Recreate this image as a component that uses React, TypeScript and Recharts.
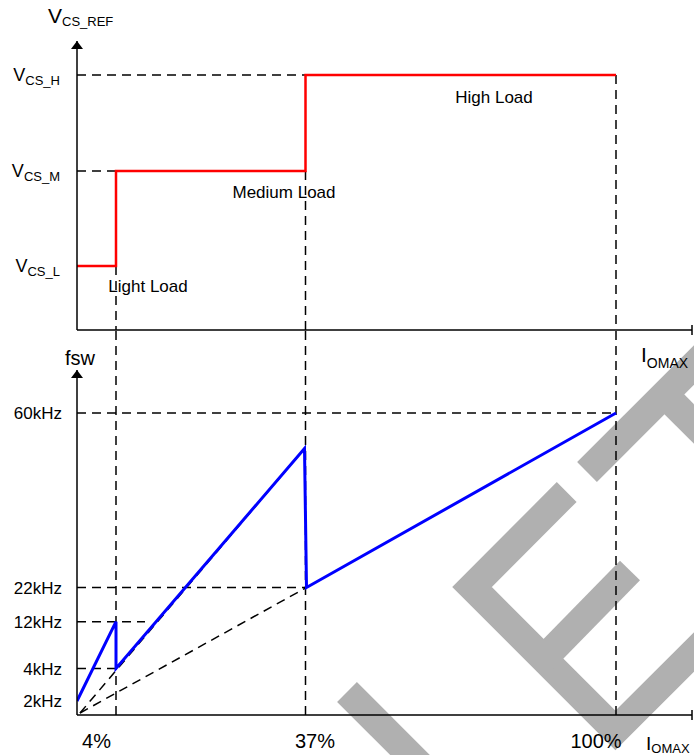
import React from 'react';
import { LineChart, Line, XAxis, YAxis, ReferenceLine, ReferenceDot } from 'recharts';

// ---- shared schematic x axis (drawn positions of 0, 4%, 37%, 100%) ----
const xTickValues = [39, 228.5, 539];
const xTickLabels = ['4%', '37%', '100%'];
const xTickShift = [-19.5, 9.5, -20];
const xAxisMax = 615;

// ---- top panel: V_CS_REF ----
const vcsLevelValues = [64, 159, 255];
const vcsLevelNames = ['CS_L', 'CS_M', 'CS_H'];
const vcsAxisMax = 289;
const vcsStepX = [0, 39, 228.5, 539];
const vcsStepY = [64, 159, 255, 255];
const loadNames = ['Light Load', 'Medium Load', 'High Load'];
const loadLabelX = [71, 207, 417];
const loadLabelY = [44, 138, 233];
const vcsGuideX = [[0, 39], [0, 228.5]];
const vcsGuideY = [[159, 159], [255, 255]];

// ---- bottom panel: fsw ----
const fswTickValues = [14, 46.5, 93.3, 127.5, 302];
const fswTickLabels = ['2kHz', '4kHz', '12kHz', '22kHz', '60kHz'];
const fswAxisMax = 345;
const fswCurveX = [0, 39, 39, 227.5, 229.5, 539];
const fswCurveY = [14, 93.3, 46.5, 266.5, 127.5, 302];
const fswGuideX = [[0, 539], [0, 228.5], [0, 68], [0, 45], [3, 227.5], [3, 229.5]];
const fswGuideY = [[302, 302], [127.5, 127.5], [93.3, 93.3], [46.5, 46.5], [2, 266.5], [2, 127.5]];

// ---- vertical drop guides (x position, level in top panel) ----
const dropX = [39, 228.5, 539];
const dropFromVcs = [64, 159, 255];

// ---- background watermark strokes ----
const watermarkStrokes = [
  [[347, 692], [445, 790]],
  [[566.7, 492], [472, 587], [615.4, 730.4], [730, 616]],
  [[543.7, 658.7], [630, 570.5]],
  [[587, 472], [730, 329]],
  [[672, 402], [760, 490]],
];

const FONT = '"Liberation Sans", Arial, Helvetica, sans-serif';
const DASH = '9 6';
const TOP_H = 340;
const BOTTOM_TOP = 330;

const pts = (xs: number[], ys: number[]) => xs.map((x, i) => ({ x, y: ys[i] }));

const Arrow = (p: any) => (
  <path d={`M${p.cx},${p.cy} L${p.cx - 6},${p.cy + 8} L${p.cx + 6},${p.cy + 8} Z`} fill="#000" />
);

const VcsTick = ({ y, payload }: any) => {
  const i = vcsLevelValues.indexOf(payload.value);
  return (
    <text x={60} y={y + 6} textAnchor="end" fontFamily={FONT} fontSize={18} fill="#000">
      V<tspan fontSize={13} dy={4}>{vcsLevelNames[i]}</tspan>
    </text>
  );
};

const FswTick = ({ y, payload }: any) => {
  const i = fswTickValues.indexOf(payload.value);
  return (
    <text x={62} y={y + 6} textAnchor="end" fontFamily={FONT} fontSize={17} fill="#000">
      {fswTickLabels[i]}
    </text>
  );
};

const XTick = ({ x, payload }: any) => {
  const i = xTickValues.indexOf(payload.value);
  return (
    <text x={x + xTickShift[i]} y={418} textAnchor="middle" fontFamily={FONT} fontSize={20} fill="#000">
      {xTickLabels[i]}
    </text>
  );
};

const axisStyle = { stroke: '#000', strokeWidth: 1.5 };

export default function App() {
  const stepData = pts(vcsStepX, vcsStepY);
  const curveData = pts(fswCurveX, fswCurveY);
  return (
    <div style={{ position: 'absolute', left: 0, top: 0, width: 694, height: 755, background: '#fff', overflow: 'hidden' }}>
      <svg width={694} height={755} style={{ position: 'absolute', left: 0, top: 0 }}>
        {watermarkStrokes.map((s, i) => (
          <polyline key={i} points={s.map((p) => p.join(',')).join(' ')} fill="none" stroke="#b0b0b0" strokeWidth={28} strokeLinejoin="miter" strokeLinecap="butt" />
        ))}
      </svg>

      <div style={{ position: 'absolute', left: 0, top: 0 }}>
        <LineChart width={694} height={TOP_H} data={stepData} margin={{ top: 41, right: 2, bottom: 9, left: 76 }}>
          <XAxis type="number" dataKey="x" domain={[0, xAxisMax]} allowDataOverflow height={1} tick={false} tickLine={false} axisLine={axisStyle} />
          <YAxis type="number" dataKey="y" domain={[0, vcsAxisMax]} allowDataOverflow width={1} ticks={vcsLevelValues} tick={<VcsTick />} tickLine={false} axisLine={axisStyle} interval={0} />
          {vcsGuideX.map((gx, i) => (
            <Line key={'g' + i} data={pts(gx, vcsGuideY[i])} dataKey="y" stroke="#000" strokeWidth={1.5} strokeDasharray={DASH} dot={false} activeDot={false} isAnimationActive={false} />
          ))}
          {dropX.map((dx, i) => (
            <ReferenceLine key={'d' + i} segment={[{ x: dx, y: dropFromVcs[i] }, { x: dx, y: 0 }]} stroke="#000" strokeWidth={1.5} strokeDasharray={DASH} ifOverflow="visible" />
          ))}
          <Line type="stepAfter" dataKey="y" stroke="#ff0000" strokeWidth={2.5} dot={false} activeDot={false} isAnimationActive={false} />
          {loadNames.map((n, i) => (
            <ReferenceDot key={'l' + i} x={loadLabelX[i]} y={loadLabelY[i]} r={0} fill="none" stroke="none" ifOverflow="visible"
              label={{ value: n, position: 'center', fontSize: 17, fill: '#000', fontFamily: FONT }} />
          ))}
          <ReferenceDot x={0} y={vcsAxisMax} r={0} shape={Arrow} ifOverflow="visible" />
          <ReferenceLine segment={[{ x: xAxisMax, y: -5 }, { x: xAxisMax, y: 5 }]} stroke="#000" strokeWidth={1.5} ifOverflow="visible" />
          <text x={48} y={23} fontFamily={FONT} fontSize={21} fill="#000">
            V<tspan fontSize={13} dy={2.5}>CS_REF</tspan>
          </text>
        </LineChart>
      </div>

      <div style={{ position: 'absolute', left: 0, top: BOTTOM_TOP }}>
        <LineChart width={694} height={755 - BOTTOM_TOP} data={curveData} margin={{ top: 370 - BOTTOM_TOP, right: 2, bottom: 39, left: 76 }}>
          <XAxis type="number" dataKey="x" domain={[0, xAxisMax]} allowDataOverflow height={1} ticks={xTickValues} tick={<XTick />} tickLine={false} axisLine={axisStyle} interval={0} />
          <YAxis type="number" dataKey="y" domain={[0, fswAxisMax]} allowDataOverflow width={1} ticks={fswTickValues} tick={<FswTick />} tickLine={false} axisLine={axisStyle} interval={0} />
          {fswGuideX.map((gx, i) => (
            <Line key={'g' + i} data={pts(gx, fswGuideY[i])} dataKey="y" stroke="#000" strokeWidth={1.5} strokeDasharray={DASH} dot={false} activeDot={false} isAnimationActive={false} />
          ))}
          {dropX.map((dx, i) => (
            <ReferenceLine key={'d' + i} segment={[{ x: dx, y: 0 }, { x: dx, y: fswAxisMax + 40 }]} stroke="#000" strokeWidth={1.5} strokeDasharray={DASH} ifOverflow="visible" />
          ))}
          <Line dataKey="y" stroke="#0000ff" strokeWidth={3} dot={false} activeDot={false} isAnimationActive={false} />
          <ReferenceDot x={0} y={fswAxisMax} r={0} shape={Arrow} ifOverflow="visible" />
          <ReferenceLine segment={[{ x: xAxisMax, y: -5 }, { x: xAxisMax, y: 5 }]} stroke="#000" strokeWidth={1.5} ifOverflow="visible" />
          <text x={65} y={365 - BOTTOM_TOP} fontFamily={FONT} fontSize={20} fill="#000">fsw</text>
          <text x={641} y={362 - BOTTOM_TOP} fontFamily={FONT} fontSize={21} fill="#000">
            I<tspan fontSize={14} dy={6}>OMAX</tspan>
          </text>
          <text x={646} y={750 - BOTTOM_TOP} fontFamily={FONT} fontSize={19} fill="#000">
            I<tspan fontSize={13} dy={3}>OMAX</tspan>
          </text>
        </LineChart>
      </div>
    </div>
  );
}
